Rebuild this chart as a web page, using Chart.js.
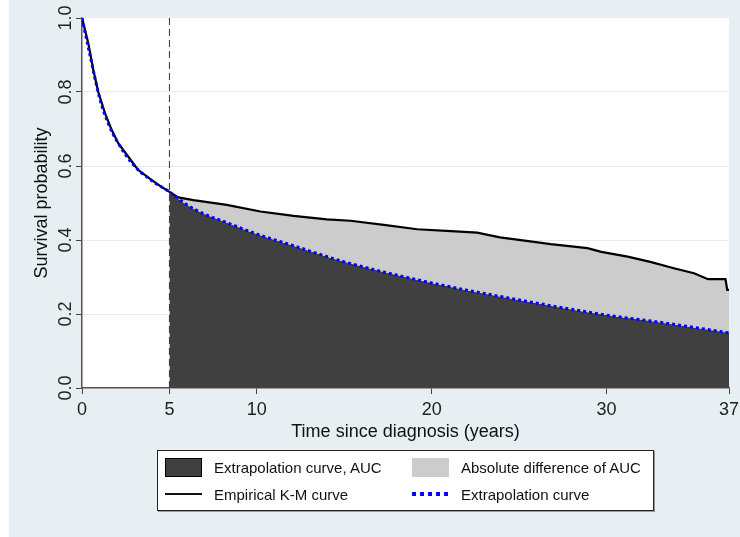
<!DOCTYPE html>
<html>
<head>
<meta charset="utf-8">
<script src="https://cdn.jsdelivr.net/npm/chart.js@4.4.0/dist/chart.umd.min.js"></script>
<style>
  html, body { margin: 0; padding: 0; background: #fff; }
  #wrap { position: absolute; left: 9px; top: 0; width: 731px; height: 537px; background: #e8eff2; }
  #chart { position: absolute; left: 0; top: 0; }
  #legend {
    position: absolute; left: 148px; top: 450px; width: 495px; height: 59px;
    background: #fff; border: 1px solid #222; box-shadow: 1px 1px 0 #999;
    font-family: "Liberation Sans", Arial, sans-serif; font-size: 15px; color: #111;
  }
  .item { position: absolute; display: flex; align-items: center; height: 20px; }
  .sw { width: 37px; height: 19px; margin-right: 12px; box-sizing: border-box; }
</style>
</head>
<body>
<div id="wrap">
  <canvas id="chart" width="731" height="537"></canvas>
  <div id="legend"></div>
</div>
<script>
// Kaplan-Meier (empirical) curve
const kmTime = [0, 0.36, 0.65, 0.93, 1.32, 1.7, 2.08, 2.65, 3.04, 3.22, 3.99, 4.5, 5,
  5.5, 6.37, 8.28, 10.2, 12.1, 14.0, 15.35, 17.26, 19.17, 21.1, 22.6, 23.9, 25.85,
  26.8, 28.9, 29.7, 31.2, 32.5, 33.9, 35.0, 35.8, 36.8, 36.9, 37];
const kmSurv = [1.0, 0.932, 0.859, 0.8, 0.742, 0.697, 0.661, 0.625, 0.6, 0.589, 0.562, 0.545, 0.53,
  0.515, 0.508, 0.495, 0.477, 0.465, 0.456, 0.452, 0.441, 0.429, 0.424, 0.42, 0.407, 0.395,
  0.389, 0.378, 0.368, 0.355, 0.341, 0.323, 0.31, 0.294, 0.294, 0.265, 0.265];

// extrapolated (parametric) curve
const extTime = [0, 0.5, 1, 1.5, 2, 3, 4, 5, 6, 7, 8, 10, 12, 15, 20, 25, 30, 33, 37];
const extSurv = [1.0, 0.89, 0.785, 0.715, 0.667, 0.6, 0.56, 0.53, 0.495, 0.47, 0.452,
  0.416, 0.386, 0.341, 0.284, 0.238, 0.197, 0.178, 0.149];

const cutoff = 5;
const xTicks = [0, 5, 10, 20, 30, 37];
const yTicks = [0, 0.2, 0.4, 0.6, 0.8, 1.0];
const legendLabels = ["Extrapolation curve, AUC", "Absolute difference of AUC",
  "Empirical K-M curve", "Extrapolation curve"];

const FONT = "'Liberation Sans', Arial, sans-serif";

const toPts = (t, s) => t.map((v, i) => ({ x: v, y: s[i] }));
const kmPts = toPts(kmTime, kmSurv);
const extPts = toPts(extTime, extSurv);
const kmAfter = kmPts.filter(p => p.x >= cutoff);
const extAfter = extPts.filter(p => p.x >= cutoff);

const plotBg = {
  id: "plotBg",
  beforeDraw(chart) {
    const { ctx, chartArea: a } = chart;
    ctx.save();
    ctx.fillStyle = "#fff";
    ctx.fillRect(a.left, a.top, a.right - a.left, a.bottom - a.top);
    ctx.restore();
  },
  afterDraw(chart) {
    // rotated y tick labels
    const s = chart.scales.y;
    const ctx = chart.ctx;
    ctx.save();
    ctx.fillStyle = "#222";
    ctx.font = "18px " + FONT;
    ctx.textAlign = "center";
    ctx.textBaseline = "alphabetic";
    yTicks.forEach(v => {
      ctx.save();
      ctx.translate(s.right - 11, s.getPixelForValue(v));
      ctx.rotate(-Math.PI / 2);
      ctx.fillText(v.toFixed(1), 0, 0);
      ctx.restore();
    });
    ctx.restore();
  }
};

new Chart(document.getElementById("chart"), {
  type: "line",
  data: {
    datasets: [
      {
        label: "cutoff",
        data: [{ x: cutoff, y: 0 }, { x: cutoff, y: 1 }],
        borderColor: "#333",
        borderWidth: 1,
        borderDash: [7, 4],
        pointRadius: 0,
        fill: false
      },
      {
        label: legendLabels[3],
        data: extPts,
        borderColor: "#0000ff",
        borderWidth: 3,
        borderDash: [3, 3],
        cubicInterpolationMode: "monotone",
        pointRadius: 0,
        fill: false
      },
      {
        label: legendLabels[2],
        data: kmPts,
        borderColor: "#000",
        borderWidth: 2.2,
        pointRadius: 0,
        fill: false
      },
      {
        label: legendLabels[1],
        data: kmAfter,
        borderWidth: 0,
        borderColor: "transparent",
        backgroundColor: "#cccccc",
        pointRadius: 0,
        fill: "+1"
      },
      {
        label: legendLabels[0],
        data: extAfter,
        borderWidth: 0,
        borderColor: "transparent",
        backgroundColor: "#404040",
        cubicInterpolationMode: "monotone",
        pointRadius: 0,
        fill: "origin"
      }
    ]
  },
  options: {
    responsive: false,
    animation: false,
    layout: { padding: { left: 0, top: 18, right: 11, bottom: 94 } },
    plugins: { legend: { display: false }, tooltip: { enabled: false } },
    scales: {
      x: {
        type: "linear",
        min: 0,
        max: 37,
        afterBuildTicks: s => { s.ticks = xTicks.map(v => ({ value: v })); },
        afterFit: s => { s.height = 55; s.paddingLeft = 0; s.paddingRight = 0; },
        ticks: { autoSkip: false, maxRotation: 0, padding: 5, color: "#222", font: { family: FONT, size: 18 } },
        grid: { drawOnChartArea: false, color: "#444", tickColor: "#444", tickLength: 6 },
        border: { color: "#555", width: 1.5 },
        title: { display: true, text: "Time since diagnosis (years)", color: "#111",
          font: { family: FONT, size: 18 }, padding: 0 }
      },
      y: {
        min: 0,
        max: 1,
        afterBuildTicks: s => { s.ticks = yTicks.map(v => ({ value: v })); },
        afterFit: s => { s.width = 73; },
        ticks: { display: false },
        grid: {
          color: c => (c.tick && (c.tick.value === 0 || c.tick.value === 1)) ? "transparent" : "#e2ecf0",
          tickColor: "#444",
          tickLength: 6
        },
        border: { color: "#555", width: 1.5 },
        title: { display: true, text: "Survival probability", color: "#111",
          font: { family: FONT, size: 18 }, padding: { top: 22, bottom: 0 } }
      }
    }
  },
  plugins: [plotBg]
});

// legend box
const legend = document.getElementById("legend");
const swatches = [
  "background:#404040;border:1px solid #000;",
  "background:#cccccc;",
  "height:2px;background:#111;",
  "height:4px;background:repeating-linear-gradient(to right,#0000ff 0 4px,transparent 4px 8px);"
];
const spots = [[7, 6], [254, 6], [7, 33], [254, 33]];
legendLabels.forEach((txt, i) => {
  const it = document.createElement("div");
  it.className = "item";
  it.style.left = spots[i][0] + "px";
  it.style.top = spots[i][1] + "px";
  it.innerHTML = '<span class="sw" style="' + swatches[i] + '"></span><span>' + txt + '</span>';
  legend.appendChild(it);
});
</script>
</body>
</html>
